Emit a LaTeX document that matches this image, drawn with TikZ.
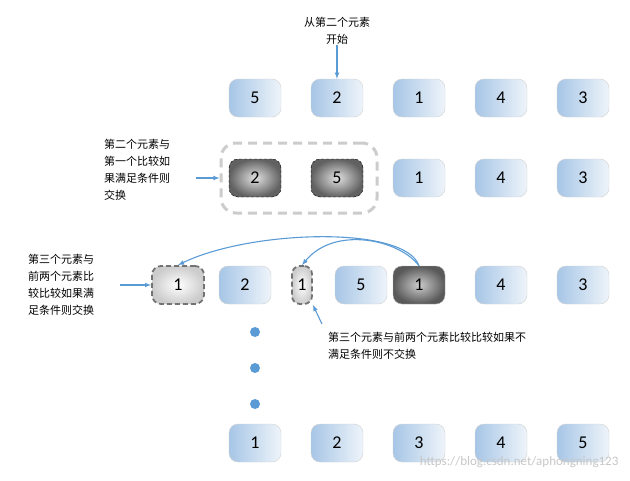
\documentclass[tikz,border=0pt]{standalone}
\usepackage{fontspec}
\newfontfamily\cjk{Noto Sans CJK SC}
\setmainfont{Carlito}
\definecolor{ac}{HTML}{5B9BD5}
\definecolor{bA}{HTML}{A7C6E6}
\definecolor{bB}{HTML}{EEF4FA}
\begin{document}
\begin{tikzpicture}[x=1pt,y=-1pt,
 bx/.style={rounded corners=9pt,minimum width=52pt,minimum height=38pt,inner sep=0pt,font=\fontsize{18}{18}\selectfont},
 blue/.style={bx,draw=black!18,shading angle=135,left color=bA,right color=bB},
 dark/.style={bx,draw=black!30,inner color=black!20,outer color=black!65},
 ddark/.style={bx,draw=black,densely dashed,inner color=black!12,outer color=black!62},
 lite/.style={bx,draw=black!55,dash pattern=on 5pt off 3pt,line width=1.8pt,inner color=white,outer color=black!20},
 arr/.style={-latex,draw=ac,line width=1.1pt},
 lbl/.style={font=\cjk\fontsize{11}{17}\selectfont,align=left,inner sep=0pt},
 dot/.style={circle,fill=ac,minimum size=10pt,inner sep=0pt}]
\useasboundingbox (0,0) rectangle (630,480);
% row 1
\node[blue] (a1) at (255,98) {5};
\node[blue] (a2) at (337,98) {2};
\node[blue] (a3) at (419,98) {1};
\node[blue] (a4) at (501,98) {4};
\node[blue] (a5) at (583,98) {3};
\node[lbl,align=center] (t1) at (337,31) {从第二个元素\\开始};
\draw[arr] (t1) -- (a2);
% row 2
\node[draw=black!20,line width=3pt,dash pattern=on 9pt off 6pt,rounded corners=15pt,minimum width=156pt,minimum height=70pt] (g) at (299,178) {};
\node[ddark] (b1) at (255,178) {2};
\node[ddark] (b2) at (337,178) {5};
\node[blue] (b3) at (419,178) {1};
\node[blue] (b4) at (501,178) {4};
\node[blue] (b5) at (583,178) {3};
\node[lbl,anchor=west] (t2) at (104,170) {第二个元素与\\第一个比较如\\果满足条件则\\交换};
\coordinate (t2e) at (196,178);
\draw[arr] (t2e) -- (g.west);
% row 3
\node[lite] (c1) at (178,285) {1};
\node[blue] (c2) at (245,285) {2};
\node[lite,minimum width=20pt,rounded corners=8pt] (c3) at (302,285) {1};
\node[blue] (c4) at (361,285) {5};
\node[dark] (c5) at (419,285) {1};
\node[blue] (c6) at (501,285) {4};
\node[blue] (c7) at (583,285) {3};
\node[lbl,anchor=west] (t3) at (28,285) {第三个元素与\\前两个元素比\\较比较如果满\\足条件则交换};
\coordinate (t3e) at (120,285);
\draw[arr] (t3e) -- (c1.west);
\draw[arr] (c5.north) .. controls (405,225) and (250,230) .. (c1.north);
\draw[arr] (c5.north) .. controls (400,240) and (335,225) .. (c3.north);
\node[lbl,anchor=west] (t4) at (328,346) {第三个元素与前两个元素比较比较如果不\\满足条件则不交换};
\coordinate (t4s) at (322,324);
\draw[arr] (t4s) -- (c3.south east);
% dots
\node[dot] (d1) at (255,332) {};
\node[dot] (d2) at (255,368) {};
\node[dot] (d3) at (255,404) {};
% row 4
\node[blue] (e1) at (255,443) {1};
\node[blue] (e2) at (337,443) {2};
\node[blue] (e3) at (419,443) {3};
\node[blue] (e4) at (501,443) {4};
\node[blue] (e5) at (583,443) {5};
\node[font=\fontsize{13}{13}\selectfont,text=black!22,anchor=east] (wm) at (622,462) {https://blog.csdn.net/aphongning123};
\end{tikzpicture}
\end{document}
